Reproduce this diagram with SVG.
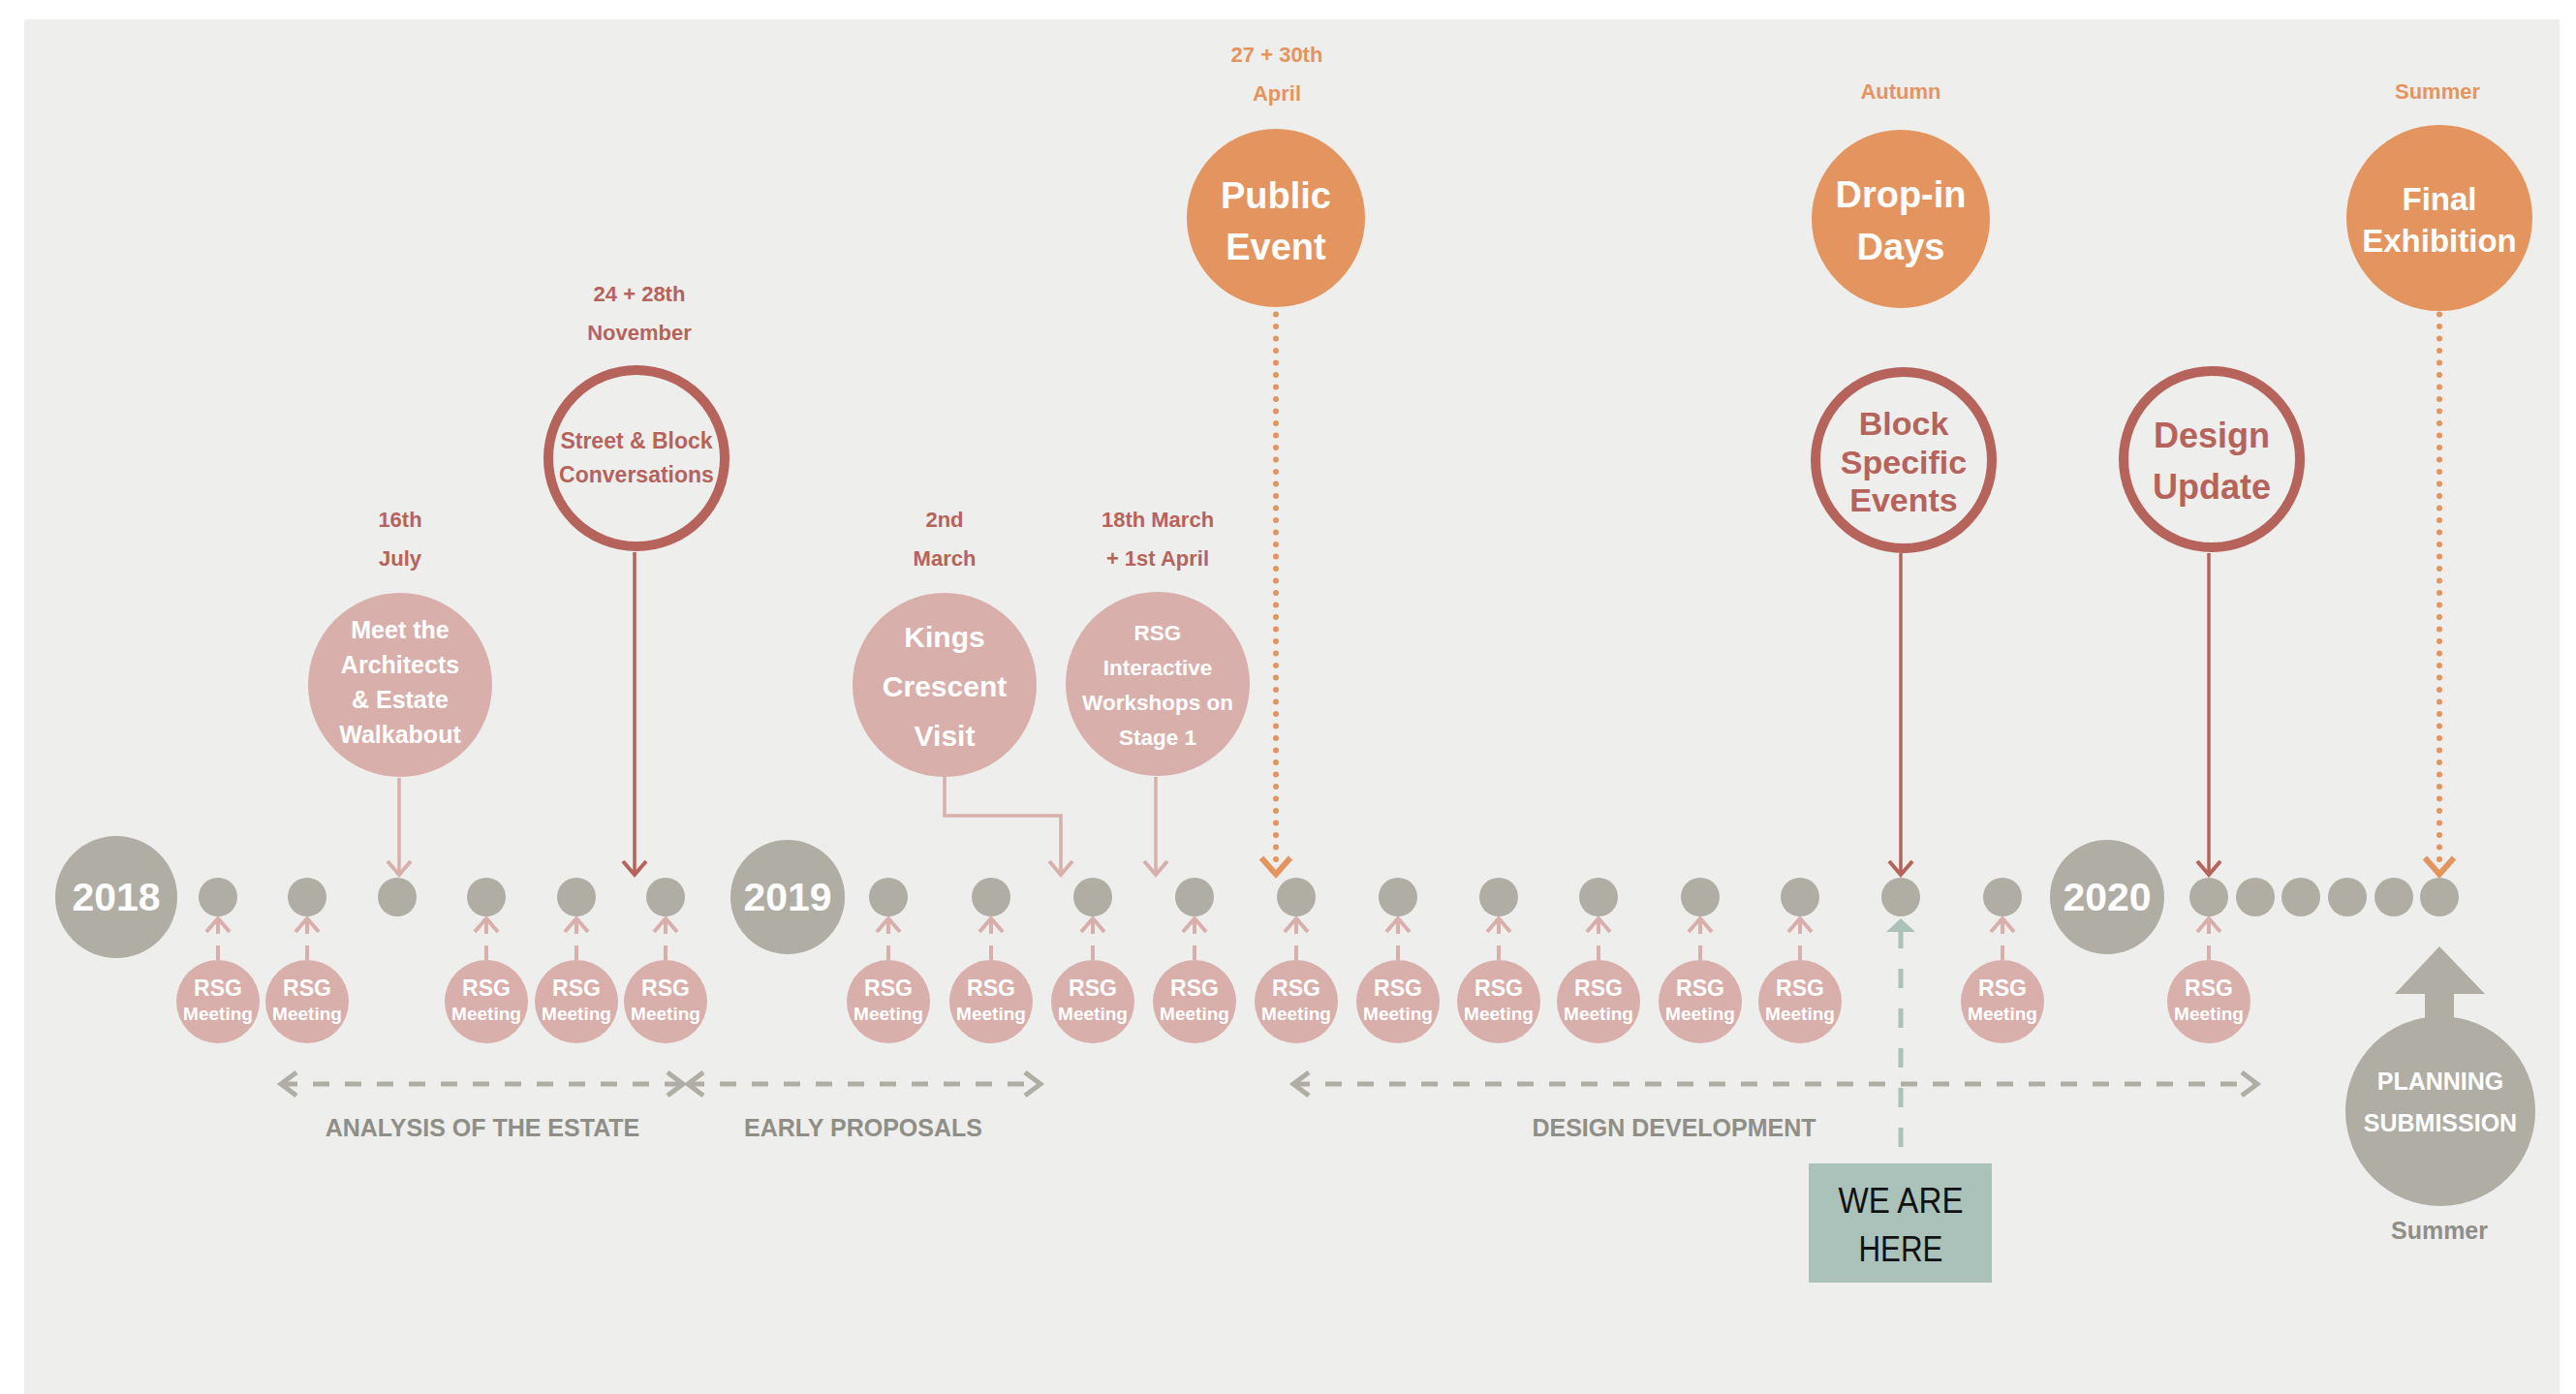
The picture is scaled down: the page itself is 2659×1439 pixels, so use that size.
<svg xmlns="http://www.w3.org/2000/svg" width="2659" height="1439" viewBox="0 0 2659 1439">
<defs>
<style>
text{font-family:"Liberation Sans",Arial,sans-serif;font-weight:bold;text-anchor:middle}
.grey{fill:#b0ada5}
.yrt{fill:#fff;font-size:41px}
.pink{fill:#d9afab}
.rsg1{fill:#fff;font-size:23px}
.rsg2{fill:#fff;font-size:19px}
.wt{fill:#fff}
.ring{fill:#eeeeec;stroke:#b5635b;stroke-width:10}
.redt{fill:#b5635b}
.org{fill:#e4955f}
.date{font-size:22px}
.lbl{fill:#8f8e87;font-size:25px}
.here{fill:#111;font-weight:normal;font-size:37px}
.cp{fill:none;stroke:#d9afab;stroke-width:3.5}
.cr{fill:none;stroke:#b5635b;stroke-width:3.5}
.co{fill:none;stroke:#e4955f;stroke-width:6;stroke-linecap:round;stroke-dasharray:0 12.5}
.cg{fill:none;stroke:#b0ada5;stroke-width:5;stroke-dasharray:17 16}
.ct{fill:none;stroke:#abc2ba;stroke-width:5;stroke-dasharray:20 21}
.up{fill:none;stroke:#d9afab;stroke-width:4}
</style>
<marker id="mp" markerUnits="userSpaceOnUse" orient="auto" overflow="visible" refX="0" refY="0" markerWidth="1" markerHeight="1"><path d="M-14,-12 L0,0 L-14,12" fill="none" stroke="#d9afab" stroke-width="4"/></marker>
<marker id="mr" markerUnits="userSpaceOnUse" orient="auto" overflow="visible" refX="0" refY="0" markerWidth="1" markerHeight="1"><path d="M-14,-12 L0,0 L-14,12" fill="none" stroke="#b5635b" stroke-width="4"/></marker>
<marker id="mo" markerUnits="userSpaceOnUse" orient="auto" overflow="visible" refX="0" refY="0" markerWidth="1" markerHeight="1"><path d="M-2,-15 L15,0 L-2,15" fill="none" stroke="#e4955f" stroke-width="6"/></marker>
<marker id="mg" markerUnits="userSpaceOnUse" orient="auto-start-reverse" overflow="visible" refX="0" refY="0" markerWidth="1" markerHeight="1"><path d="M-16,-12 L0,0 L-16,12" fill="none" stroke="#b0ada5" stroke-width="5"/></marker>
<marker id="mt" markerUnits="userSpaceOnUse" orient="auto" overflow="visible" refX="0" refY="0" markerWidth="1" markerHeight="1"><path d="M0,-15 L14,0 L0,15 Z" fill="#abc2ba"/></marker>
</defs>

<rect x="0" y="0" width="2659" height="1439" fill="#ffffff"/>
<rect x="25" y="20" width="2617" height="1419" fill="#eeeeec"/>

<g id="connectors">
  <path class="cp" d="M412,803 V903" marker-end="url(#mp)"/>
  <path class="cr" d="M655,570 V903" marker-end="url(#mr)"/>
  <path class="cp" d="M975,802 V842 H1095 V903" marker-end="url(#mp)"/>
  <path class="cp" d="M1193,802 V903" marker-end="url(#mp)"/>
  <path class="co" d="M1317,324.5 V887.5" marker-end="url(#mo)"/>
  <path class="cr" d="M1962,571 V903" marker-end="url(#mr)"/>
  <path class="cr" d="M2280,571 V903" marker-end="url(#mr)"/>
  <path class="co" d="M2518,324.5 V887.5" marker-end="url(#mo)"/>
  <path class="up" d="M225,991 V976 M225,964 V948" marker-end="url(#mp)"/>
  <path class="up" d="M317,991 V976 M317,964 V948" marker-end="url(#mp)"/>
  <path class="up" d="M502,991 V976 M502,964 V948" marker-end="url(#mp)"/>
  <path class="up" d="M595,991 V976 M595,964 V948" marker-end="url(#mp)"/>
  <path class="up" d="M687,991 V976 M687,964 V948" marker-end="url(#mp)"/>
  <path class="up" d="M917,991 V976 M917,964 V948" marker-end="url(#mp)"/>
  <path class="up" d="M1023,991 V976 M1023,964 V948" marker-end="url(#mp)"/>
  <path class="up" d="M1128,991 V976 M1128,964 V948" marker-end="url(#mp)"/>
  <path class="up" d="M1233,991 V976 M1233,964 V948" marker-end="url(#mp)"/>
  <path class="up" d="M1338,991 V976 M1338,964 V948" marker-end="url(#mp)"/>
  <path class="up" d="M1443,991 V976 M1443,964 V948" marker-end="url(#mp)"/>
  <path class="up" d="M1547,991 V976 M1547,964 V948" marker-end="url(#mp)"/>
  <path class="up" d="M1650,991 V976 M1650,964 V948" marker-end="url(#mp)"/>
  <path class="up" d="M1755,991 V976 M1755,964 V948" marker-end="url(#mp)"/>
  <path class="up" d="M1858,991 V976 M1858,964 V948" marker-end="url(#mp)"/>
  <path class="up" d="M2067,991 V976 M2067,964 V948" marker-end="url(#mp)"/>
  <path class="up" d="M2280,991 V976 M2280,964 V948" marker-end="url(#mp)"/>
  <path class="cg" d="M290,1119 H705" marker-start="url(#mg)" marker-end="url(#mg)"/>
  <path class="cg" d="M710,1119 H1074" marker-start="url(#mg)" marker-end="url(#mg)"/>
  <path class="cg" d="M1335,1119 H2330" marker-start="url(#mg)" marker-end="url(#mg)"/>
  <path class="ct" d="M1962,1184 V962" marker-end="url(#mt)"/>
</g>

<g id="timeline">
  <g id="year-2018"><circle cx="120" cy="926" r="63" class="grey"/><text x="120" y="940" class="yrt">2018</text></g>
  <g id="year-2019"><circle cx="813" cy="926" r="59" class="grey"/><text x="813" y="940" class="yrt">2019</text></g>
  <g id="year-2020"><circle cx="2175" cy="926" r="59" class="grey"/><text x="2175" y="940" class="yrt">2020</text></g>
  <g id="dot-01"><circle cx="225" cy="926" r="20" class="grey"/></g>
  <g id="dot-02"><circle cx="317" cy="926" r="20" class="grey"/></g>
  <g id="dot-03"><circle cx="410" cy="926" r="20" class="grey"/></g>
  <g id="dot-04"><circle cx="502" cy="926" r="20" class="grey"/></g>
  <g id="dot-05"><circle cx="595" cy="926" r="20" class="grey"/></g>
  <g id="dot-06"><circle cx="687" cy="926" r="20" class="grey"/></g>
  <g id="dot-07"><circle cx="917" cy="926" r="20" class="grey"/></g>
  <g id="dot-08"><circle cx="1023" cy="926" r="20" class="grey"/></g>
  <g id="dot-09"><circle cx="1128" cy="926" r="20" class="grey"/></g>
  <g id="dot-10"><circle cx="1233" cy="926" r="20" class="grey"/></g>
  <g id="dot-11"><circle cx="1338" cy="926" r="20" class="grey"/></g>
  <g id="dot-12"><circle cx="1443" cy="926" r="20" class="grey"/></g>
  <g id="dot-13"><circle cx="1547" cy="926" r="20" class="grey"/></g>
  <g id="dot-14"><circle cx="1650" cy="926" r="20" class="grey"/></g>
  <g id="dot-15"><circle cx="1755" cy="926" r="20" class="grey"/></g>
  <g id="dot-16"><circle cx="1858" cy="926" r="20" class="grey"/></g>
  <g id="dot-17"><circle cx="1962" cy="926" r="20" class="grey"/></g>
  <g id="dot-18"><circle cx="2067" cy="926" r="20" class="grey"/></g>
  <g id="dot-19"><circle cx="2280" cy="926" r="20" class="grey"/></g>
  <g id="dot-20"><circle cx="2328" cy="926" r="20" class="grey"/></g>
  <g id="dot-21"><circle cx="2375" cy="926" r="20" class="grey"/></g>
  <g id="dot-22"><circle cx="2423" cy="926" r="20" class="grey"/></g>
  <g id="dot-23"><circle cx="2471" cy="926" r="20" class="grey"/></g>
  <g id="dot-24"><circle cx="2518" cy="926" r="20" class="grey"/></g>
</g>

<g id="rsg-meetings">
  <g id="rsg-01"><circle cx="225" cy="1034" r="43" class="pink"/><text x="225" y="1028" class="rsg1">RSG</text><text x="225" y="1053" class="rsg2">Meeting</text></g>
  <g id="rsg-02"><circle cx="317" cy="1034" r="43" class="pink"/><text x="317" y="1028" class="rsg1">RSG</text><text x="317" y="1053" class="rsg2">Meeting</text></g>
  <g id="rsg-03"><circle cx="502" cy="1034" r="43" class="pink"/><text x="502" y="1028" class="rsg1">RSG</text><text x="502" y="1053" class="rsg2">Meeting</text></g>
  <g id="rsg-04"><circle cx="595" cy="1034" r="43" class="pink"/><text x="595" y="1028" class="rsg1">RSG</text><text x="595" y="1053" class="rsg2">Meeting</text></g>
  <g id="rsg-05"><circle cx="687" cy="1034" r="43" class="pink"/><text x="687" y="1028" class="rsg1">RSG</text><text x="687" y="1053" class="rsg2">Meeting</text></g>
  <g id="rsg-06"><circle cx="917" cy="1034" r="43" class="pink"/><text x="917" y="1028" class="rsg1">RSG</text><text x="917" y="1053" class="rsg2">Meeting</text></g>
  <g id="rsg-07"><circle cx="1023" cy="1034" r="43" class="pink"/><text x="1023" y="1028" class="rsg1">RSG</text><text x="1023" y="1053" class="rsg2">Meeting</text></g>
  <g id="rsg-08"><circle cx="1128" cy="1034" r="43" class="pink"/><text x="1128" y="1028" class="rsg1">RSG</text><text x="1128" y="1053" class="rsg2">Meeting</text></g>
  <g id="rsg-09"><circle cx="1233" cy="1034" r="43" class="pink"/><text x="1233" y="1028" class="rsg1">RSG</text><text x="1233" y="1053" class="rsg2">Meeting</text></g>
  <g id="rsg-10"><circle cx="1338" cy="1034" r="43" class="pink"/><text x="1338" y="1028" class="rsg1">RSG</text><text x="1338" y="1053" class="rsg2">Meeting</text></g>
  <g id="rsg-11"><circle cx="1443" cy="1034" r="43" class="pink"/><text x="1443" y="1028" class="rsg1">RSG</text><text x="1443" y="1053" class="rsg2">Meeting</text></g>
  <g id="rsg-12"><circle cx="1547" cy="1034" r="43" class="pink"/><text x="1547" y="1028" class="rsg1">RSG</text><text x="1547" y="1053" class="rsg2">Meeting</text></g>
  <g id="rsg-13"><circle cx="1650" cy="1034" r="43" class="pink"/><text x="1650" y="1028" class="rsg1">RSG</text><text x="1650" y="1053" class="rsg2">Meeting</text></g>
  <g id="rsg-14"><circle cx="1755" cy="1034" r="43" class="pink"/><text x="1755" y="1028" class="rsg1">RSG</text><text x="1755" y="1053" class="rsg2">Meeting</text></g>
  <g id="rsg-15"><circle cx="1858" cy="1034" r="43" class="pink"/><text x="1858" y="1028" class="rsg1">RSG</text><text x="1858" y="1053" class="rsg2">Meeting</text></g>
  <g id="rsg-16"><circle cx="2067" cy="1034" r="43" class="pink"/><text x="2067" y="1028" class="rsg1">RSG</text><text x="2067" y="1053" class="rsg2">Meeting</text></g>
  <g id="rsg-17"><circle cx="2280" cy="1034" r="43" class="pink"/><text x="2280" y="1028" class="rsg1">RSG</text><text x="2280" y="1053" class="rsg2">Meeting</text></g>
</g>

<g id="meet-architects">
  <text x="413" y="544" class="date redt">16th</text>
  <text x="413" y="584" class="date redt">July</text>
  <circle cx="413" cy="707" r="95" class="pink"/>
  <text x="413" y="659" class="wt" font-size="25">Meet the</text>
  <text x="413" y="695" class="wt" font-size="25">Architects</text>
  <text x="413" y="731" class="wt" font-size="25">&amp; Estate</text>
  <text x="413" y="767" class="wt" font-size="25">Walkabout</text>
</g>

<g id="street-block">
  <text x="660" y="311" class="date redt">24 + 28th</text>
  <text x="660" y="351" class="date redt">November</text>
  <circle cx="657" cy="473" r="91" class="ring"/>
  <text x="657" y="463" class="redt" font-size="23">Street &amp; Block</text>
  <text x="657" y="498" class="redt" font-size="23">Conversations</text>
</g>

<g id="kings-crescent">
  <text x="975" y="544" class="date redt">2nd</text>
  <text x="975" y="584" class="date redt">March</text>
  <circle cx="975" cy="707" r="95" class="pink"/>
  <text x="975" y="668" class="wt" font-size="30">Kings</text>
  <text x="975" y="719" class="wt" font-size="30">Crescent</text>
  <text x="975" y="770" class="wt" font-size="30">Visit</text>
</g>

<g id="rsg-workshops">
  <text x="1195" y="544" class="date redt">18th March</text>
  <text x="1195" y="584" class="date redt">+ 1st April</text>
  <circle cx="1195" cy="706" r="95" class="pink"/>
  <text x="1195" y="661" class="wt" font-size="22.5">RSG</text>
  <text x="1195" y="697" class="wt" font-size="22.5">Interactive</text>
  <text x="1195" y="733" class="wt" font-size="22.5">Workshops on</text>
  <text x="1195" y="769" class="wt" font-size="22.5">Stage 1</text>
</g>

<g id="public-event">
  <text x="1318" y="64" class="date org">27 + 30th</text>
  <text x="1318" y="104" class="date org">April</text>
  <circle cx="1317" cy="225" r="92" class="org"/>
  <text x="1317" y="215" class="wt" font-size="38">Public</text>
  <text x="1317" y="268" class="wt" font-size="38">Event</text>
</g>

<g id="drop-in-days">
  <text x="1962" y="102" class="date org">Autumn</text>
  <circle cx="1962" cy="226" r="92" class="org"/>
  <text x="1962" y="214" class="wt" font-size="38">Drop-in</text>
  <text x="1962" y="268" class="wt" font-size="38">Days</text>
</g>

<g id="block-specific">
  <circle cx="1965" cy="475" r="91" class="ring"/>
  <text x="1965" y="449" class="redt" font-size="34">Block</text>
  <text x="1965" y="489" class="redt" font-size="34">Specific</text>
  <text x="1965" y="528" class="redt" font-size="34">Events</text>
</g>

<g id="design-update">
  <circle cx="2283" cy="474" r="91" class="ring"/>
  <text x="2283" y="462" class="redt" font-size="36">Design</text>
  <text x="2283" y="515" class="redt" font-size="36">Update</text>
</g>

<g id="final-exhibition">
  <text x="2516" y="102" class="date org">Summer</text>
  <circle cx="2518" cy="225" r="96" class="org"/>
  <text x="2518" y="217" class="wt" font-size="33">Final</text>
  <text x="2518" y="260" class="wt" font-size="33">Exhibition</text>
</g>

<g id="planning-submission">
  <polygon points="2518,977 2565,1026 2533,1026 2533,1062 2503,1062 2503,1026 2472,1026" class="grey"/>
  <circle cx="2519" cy="1147" r="98" class="grey"/>
  <text x="2519" y="1125" class="wt" font-size="25">PLANNING</text>
  <text x="2519" y="1168" class="wt" font-size="25">SUBMISSION</text>
  <text x="2518" y="1279" class="lbl" font-size="22">Summer</text>
</g>

<g id="we-are-here">
  <rect x="1867" y="1201" width="189" height="123" fill="#abc2ba"/>
  <text x="1962" y="1252" class="here" textLength="129" lengthAdjust="spacingAndGlyphs">WE ARE</text>
  <text x="1962" y="1302" class="here" textLength="87" lengthAdjust="spacingAndGlyphs">HERE</text>
</g>

<g id="phase-labels">
  <text x="498" y="1173" class="lbl">ANALYSIS OF THE ESTATE</text>
  <text x="891" y="1173" class="lbl">EARLY PROPOSALS</text>
  <text x="1728" y="1173" class="lbl" font-size="26">DESIGN DEVELOPMENT</text>
</g>
</svg>
